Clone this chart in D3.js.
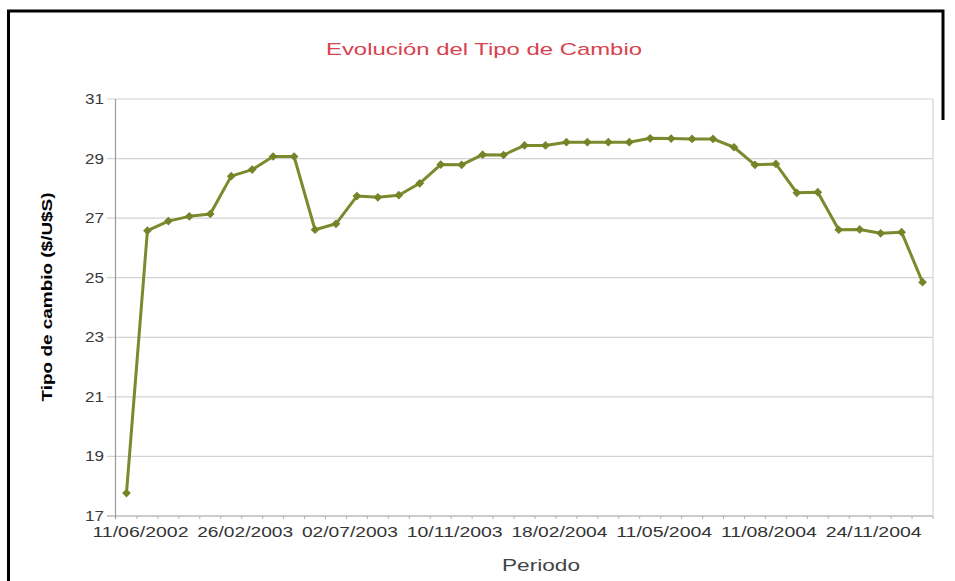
<!DOCTYPE html>
<html>
<head>
<meta charset="utf-8">
<script src="https://cdn.jsdelivr.net/npm/d3@7"></script>
<style>
  html, body { margin: 0; padding: 0; background: #fff; }
  svg { display: block; font-family: "Liberation Sans", Arial, sans-serif; }
</style>
</head>
<body>
<svg id="chart" width="955" height="581"></svg>
<script>
const title = "Evolución del Tipo de Cambio";
const yTitle = "Tipo de cambio ($/U$S)";
const xTitle = "Periodo";

const categories = [1,2,3,4,5,6,7,8,9,10,11,12,13,14,15,16,17,18,19,20,
                    21,22,23,24,25,26,27,28,29,30,31,32,33,34,35,36,37,38,39];
const values = [17.77, 26.58, 26.90, 27.06, 27.14, 28.41, 28.63, 29.07, 29.07, 26.61,
                26.81, 27.74, 27.70, 27.77, 28.17, 28.80, 28.79, 29.13, 29.12, 29.44,
                29.44, 29.55, 29.55, 29.55, 29.55, 29.68, 29.67, 29.66, 29.66, 29.38,
                28.79, 28.82, 27.85, 27.87, 26.61, 26.62, 26.49, 26.53, 24.85];
const tickCategories = [1, 6, 11, 16, 21, 26, 31, 36];
const tickLabels = ["11/06/2002", "26/02/2003", "02/07/2003", "10/11/2003",
                    "18/02/2004", "11/05/2004", "11/08/2004", "24/11/2004"];
const yTicks = [17, 19, 21, 23, 25, 27, 29, 31];

const svg = d3.select("#chart");
const pLeft = 116, pRight = 933, pTop = 99, pBottom = 516;

const x = d3.scalePoint().domain(categories).range([pLeft, pRight]).padding(0.5);
const xb = d3.scaleBand().domain(categories).range([pLeft, pRight]);
const y = d3.scaleLinear().domain([17, 31]).range([pBottom, pTop]);

// outer frame (partial, as in the reference)
svg.append("path")
  .attr("d", "M8.5,581 V11 H943 V120")
  .attr("fill", "none").attr("stroke", "#000").attr("stroke-width", 3);

// title
svg.append("text")
  .attr("x", 484).attr("y", 55)
  .attr("text-anchor", "middle")
  .attr("font-size", 17)
  .attr("fill", "#d9434f")
  .attr("textLength", 316).attr("lengthAdjust", "spacingAndGlyphs")
  .text(title);

// gridlines
svg.append("g").selectAll("line").data(yTicks).join("line")
  .attr("x1", pLeft - 9).attr("x2", pRight)
  .attr("y1", d => y(d)).attr("y2", d => y(d))
  .attr("stroke", d => d === 17 ? "#9a9a9a" : "#d2d2d2").attr("stroke-width", 1.2);

// right border of plot
svg.append("line")
  .attr("x1", pRight).attr("x2", pRight).attr("y1", pTop).attr("y2", pBottom)
  .attr("stroke", "#d2d2d2").attr("stroke-width", 1.2);

// y axis line
svg.append("line")
  .attr("x1", pLeft - 0.5).attr("x2", pLeft - 0.5).attr("y1", pTop).attr("y2", pBottom + 3)
  .attr("stroke", "#9a9a9a").attr("stroke-width", 1.2);

// small ticks along bottom
svg.append("g").selectAll("line").data(categories).join("line")
  .attr("x1", d => xb(d) + xb.bandwidth()).attr("x2", d => xb(d) + xb.bandwidth())
  .attr("y1", pBottom).attr("y2", pBottom + 3)
  .attr("stroke", "#b0b0b0").attr("stroke-width", 1);

// y tick labels
svg.append("g").selectAll("text").data(yTicks).join("text")
  .attr("x", 104).attr("y", d => y(d) + 5)
  .attr("text-anchor", "end")
  .attr("font-size", 14)
  .attr("fill", "#3a3a3a")
  .attr("textLength", 19).attr("lengthAdjust", "spacingAndGlyphs")
  .text(d => d);

// x tick labels
svg.append("g").selectAll("text").data(tickCategories).join("text")
  .attr("x", (d, i) => x(d) + 14).attr("y", 537)
  .attr("text-anchor", "middle")
  .attr("font-size", 15)
  .attr("fill", "#333")
  .attr("textLength", 96).attr("lengthAdjust", "spacingAndGlyphs")
  .text((d, i) => tickLabels[i]);

// axis titles
svg.append("text")
  .attr("x", 541).attr("y", 571)
  .attr("text-anchor", "middle")
  .attr("font-size", 17)
  .attr("fill", "#444")
  .attr("textLength", 78).attr("lengthAdjust", "spacingAndGlyphs")
  .text(xTitle);

svg.append("text")
  .attr("transform", "translate(52,297) rotate(-90)")
  .attr("text-anchor", "middle")
  .attr("font-size", 14)
  .attr("font-weight", "bold")
  .attr("fill", "#000")
  .attr("textLength", 209).attr("lengthAdjust", "spacingAndGlyphs")
  .text(yTitle);

// line
const line = d3.line().x((d, i) => x(categories[i])).y(d => y(d));
svg.append("path")
  .datum(values)
  .attr("d", line)
  .attr("fill", "none")
  .attr("stroke", "#7a8a2c")
  .attr("stroke-width", 3)
  .attr("stroke-linejoin", "round");

// markers (square turned 45°)
const sym = d3.symbol().type(d3.symbolSquare).size(38);
svg.append("g").selectAll("path").data(values).join("path")
  .attr("transform", (d, i) => `translate(${x(categories[i])},${y(d)}) rotate(45)`)
  .attr("d", sym)
  .attr("fill", "#738528");
</script>
</body>
</html>
